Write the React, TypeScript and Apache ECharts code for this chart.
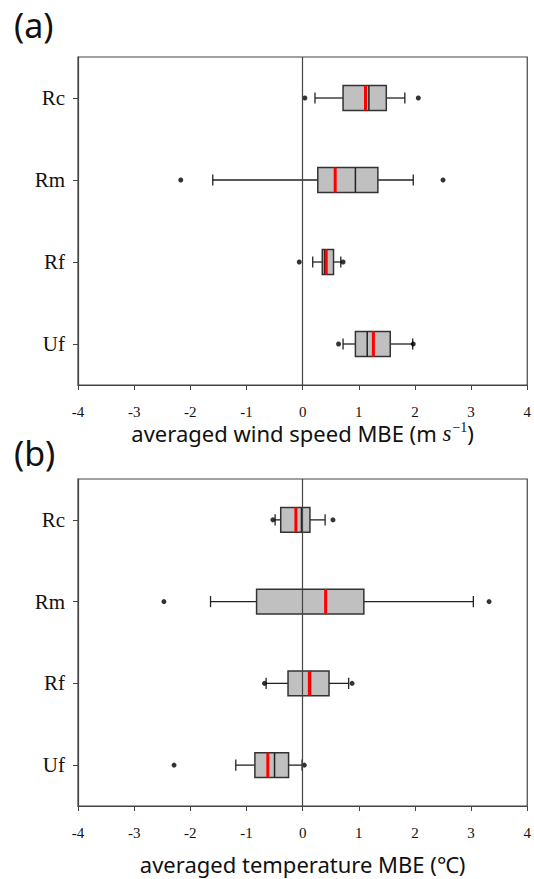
import React, { useEffect, useRef } from "react";
import * as echarts from "echarts";

const categories = ["Rc", "Rm", "Rf", "Uf"];
const xTicks = [-4, -3, -2, -1, 0, 1, 2, 3, 4];

// [min whisker, Q1, median, Q3, max whisker, mean]
const windStats = [
  [0.22, 0.72, 1.18, 1.49, 1.82, 1.12],
  [-1.6, 0.27, 0.94, 1.34, 1.97, 0.58],
  [0.18, 0.35, 0.39, 0.55, 0.68, 0.42],
  [0.72, 0.94, 1.15, 1.56, 1.96, 1.26],
];
// [value, category index]
const windOutliers = [
  [0.04, 0], [2.06, 0],
  [-2.17, 1], [2.5, 1],
  [-0.06, 2], [0.72, 2],
  [0.64, 3], [1.97, 3],
];

const tempStats = [
  [-0.49, -0.39, -0.02, 0.13, 0.4, -0.12],
  [-1.64, -0.82, 0.41, 1.09, 3.04, 0.41],
  [-0.65, -0.26, 0.14, 0.47, 0.82, 0.12],
  [-1.19, -0.85, -0.5, -0.25, -0.01, -0.62],
];
const tempOutliers = [
  [-0.53, 0], [0.54, 0],
  [-2.47, 1], [3.32, 1],
  [-0.68, 2], [0.88, 2],
  [-2.29, 3], [0.03, 3],
];

const SERIF = "'Liberation Serif', 'Times New Roman', serif";
const SANS = "'Noto Sans', sans-serif";

function renderBox(params: any, api: any) {
  const cat = api.value(0);
  const mn = api.value(1), q1 = api.value(2), md = api.value(3), q3 = api.value(4), mx = api.value(5), mean = api.value(6);
  const c = (v: number) => api.coord([v, cat]);
  const band = api.size([0, 1])[1];
  const h = band * 0.305;
  const cap = band * 0.068;
  const pMin = c(mn), pQ1 = c(q1), pMd = c(md), pQ3 = c(q3), pMx = c(mx), pMean = c(mean);
  const y = pMin[1];
  const wStyle = { stroke: "#222", lineWidth: 1.3 };
  return {
    type: "group",
    children: [
      { type: "line", shape: { x1: pMin[0], y1: y, x2: pQ1[0], y2: y }, style: wStyle },
      { type: "line", shape: { x1: pQ3[0], y1: y, x2: pMx[0], y2: y }, style: wStyle },
      { type: "line", shape: { x1: pMin[0], y1: y - cap, x2: pMin[0], y2: y + cap }, style: wStyle },
      { type: "line", shape: { x1: pMx[0], y1: y - cap, x2: pMx[0], y2: y + cap }, style: wStyle },
      {
        type: "rect",
        shape: { x: pQ1[0], y: y - h / 2, width: pQ3[0] - pQ1[0], height: h },
        style: { fill: "#c0c0c0", stroke: "#333", lineWidth: 1.5 },
      },
      { type: "line", shape: { x1: pMd[0], y1: y - h / 2, x2: pMd[0], y2: y + h / 2 }, style: { stroke: "#222", lineWidth: 1.5 } },
      { type: "line", shape: { x1: pMean[0], y1: y - h / 2, x2: pMean[0], y2: y + h / 2 }, style: { stroke: "#ff0000", lineWidth: 3 } },
    ],
  };
}

function makeX(idx: number, name: any, nameGap: number) {
  return {
    type: "value",
    gridIndex: idx,
    min: -4,
    max: 4,
    interval: 1,
    axisLine: { show: true, onZero: false, lineStyle: { color: "#444", width: 1.2 } },
    axisTick: { show: true, length: 5, lineStyle: { color: "#444" } },
    splitLine: { show: false },
    axisLabel: {
      fontFamily: SERIF,
      fontSize: 15,
      color: "#111",
      margin: 19,
      formatter: (v: number) => (xTicks.includes(v) ? String(v) : ""),
    },
    name: name.text,
    nameLocation: "middle",
    nameGap,
    nameTextStyle: name.style,
  };
}

function makeY(idx: number) {
  return {
    type: "category",
    gridIndex: idx,
    data: categories,
    inverse: true,
    axisLine: { show: true, onZero: false, lineStyle: { color: "#444", width: 1.2 } },
    axisTick: { show: true, alignWithLabel: true, length: 5, lineStyle: { color: "#444" } },
    axisLabel: { fontFamily: SERIF, fontSize: 21, color: "#111", margin: 13 },
    splitLine: { show: false },
  };
}

export default function App() {
  const ref = useRef<HTMLDivElement>(null);
  useEffect(() => {
    if (!ref.current) return;
    const chart = echarts.init(ref.current, null, { renderer: "svg" });
    const boxData = (stats: number[][]) => stats.map((s, i) => [i, ...s]);
    const zeroLine = {
      silent: true,
      symbol: ["none", "none"],
      label: { show: false },
      emphasis: { disabled: true },
      lineStyle: { color: "#444", width: 1.2, type: "solid" },
      data: [{ xAxis: 0 }],
    };
    chart.setOption({
      animation: false,
      backgroundColor: "#fff",
      grid: [
        { left: 78, top: 57, width: 455, height: 328, show: true, borderColor: "#444", borderWidth: 1.2, backgroundColor: "transparent" },
        { left: 78, top: 479, width: 455, height: 327, show: true, borderColor: "#444", borderWidth: 1.2, backgroundColor: "transparent" },
      ],
      xAxis: [
        makeX(
          0,
          {
            text: "{a|averaged wind speed MBE (m }{s|s}{sup|−1}{a|)}",
            style: {
              rich: {
                a: { fontFamily: SANS, fontSize: 22, color: "#111" },
                s: { fontFamily: SERIF, fontStyle: "italic", fontSize: 23, color: "#111" },
                sup: { fontFamily: SERIF, fontSize: 14, color: "#111", verticalAlign: "top", padding: [0, 0, 12, 1] },
              },
            },
          },
          35
        ),
        makeX(1, { text: "averaged temperature MBE (℃)", style: { fontFamily: SANS, fontSize: 22, color: "#111" } }, 47),
      ],
      yAxis: [makeY(0), makeY(1)],
      graphic: [
        { type: "text", left: 14, top: 8, style: { text: "(a)", font: `34px ${SANS}`, fill: "#111" } },
        { type: "text", left: 14, top: 436, style: { text: "(b)", font: `34px ${SANS}`, fill: "#111" } },
      ],
      series: [
        {
          type: "custom",
          xAxisIndex: 0,
          yAxisIndex: 0,
          renderItem: renderBox,
          encode: { x: [1, 2, 3, 4, 5, 6], y: 0 },
          data: boxData(windStats),
          markLine: zeroLine,
          z: 2,
        },
        {
          type: "scatter",
          xAxisIndex: 0,
          yAxisIndex: 0,
          symbolSize: 5,
          itemStyle: { color: "#000" },
          data: windOutliers,
          z: 3,
        },
        {
          type: "custom",
          xAxisIndex: 1,
          yAxisIndex: 1,
          renderItem: renderBox,
          encode: { x: [1, 2, 3, 4, 5, 6], y: 0 },
          data: boxData(tempStats),
          markLine: zeroLine,
          z: 2,
        },
        {
          type: "scatter",
          xAxisIndex: 1,
          yAxisIndex: 1,
          symbolSize: 5,
          itemStyle: { color: "#000" },
          data: tempOutliers,
          z: 3,
        },
      ],
    });
    return () => chart.dispose();
  }, []);
  return (
    <div
      ref={ref}
      style={{ position: "absolute", left: 0, top: 0, width: 534, height: 879, background: "#fff" }}
    />
  );
}
